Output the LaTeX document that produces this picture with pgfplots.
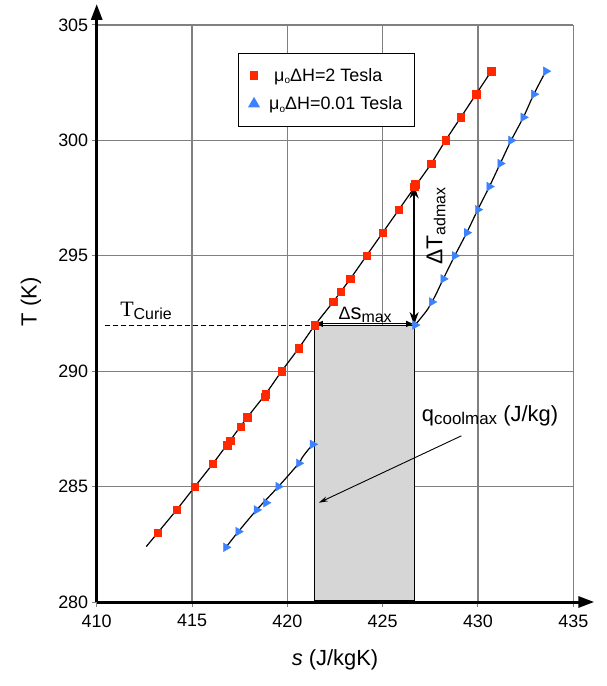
\documentclass[border=0pt]{standalone}
\usepackage{fontspec}
\setmainfont{Liberation Sans}
\newfontfamily\serifT{Liberation Serif}
\usepackage{pgfplots}
\usepackage{pgfplotstable}
\pgfplotsset{compat=1.18}
\usetikzlibrary{arrows.meta}

\definecolor{redpt}{RGB}{255,40,0}
\definecolor{bluept}{RGB}{60,130,255}
\definecolor{gridgray}{RGB}{128,128,128}
\definecolor{boxgray}{RGB}{214,214,214}

% mu0 dH = 2 Tesla
\pgfplotstableread{
s T
413.2 283
414.2 284
415.15 285
416.1 286
416.85 286.8
417.0 287
417.55 287.6
417.9 288
418.8 288.9
418.85 289
419.7 290
420.6 291
421.45 292
422.4 293
422.8 293.45
423.3 294
424.15 295
425.0 296
425.85 297
426.65 298
426.7 298.1
427.55 299
428.3 300
429.1 301
429.9 302
430.7 303
}\redpts

% mu0 dH = 0.01 Tesla
\pgfplotstableread{
s T
416.78 282.37
417.43 283.05
418.39 283.99
418.88 284.3
419.53 285.0
420.6 286.01
421.33 286.83
426.7 292
427.58 293
428.18 294
428.78 295
429.41 296
429.99 297
430.6 298
431.17 299
431.74 300
432.38 301
432.93 302
433.56 303
}\bluepts

% fitted curves
\pgfplotstableread{
s T
412.6 282.4
413.2 283
414.2 284
415.15 285
416.1 286
417.0 287
417.9 288
418.85 289
419.7 290
420.6 291
421.45 292
422.4 293
423.3 294
424.15 295
425.0 296
425.85 297
426.7 298
427.55 299
428.3 300
429.1 301
429.9 302
430.7 303
}\redline

\pgfplotstableread{
s T
416.78 282.37
417.43 283.05
418.39 283.99
419.53 285.0
420.6 286.01
421.33 286.83
426.7 292
427.58 293
428.18 294
428.78 295
429.41 296
429.99 297
430.6 298
431.17 299
431.74 300
432.38 301
432.93 302
433.56 303
}\blueline

\begin{document}
\begin{tikzpicture}
\begin{axis}[
    scale only axis,
    width=476.6bp, height=577bp,
    xmin=410, xmax=435, ymin=280, ymax=305,
    xtick={410,415,...,435}, ytick={280,285,...,305},
    axis lines=left,
    axis line style={line width=3bp, -{Triangle[length=16bp,width=11bp]}, shorten >=-21bp},
    grid=major,
    grid style={gridgray, line width=1.2bp},
    tick style={gridgray, line width=1bp},
    tick align=outside, major tick length=5bp,
    ticklabel style={font=\fontsize{18}{20}\selectfont},
    /pgf/number format/assume math mode=true,
    xticklabel style={yshift=-4bp},
    xlabel={\textit{s} (J/kgK)}, ylabel={T (K)},
    label style={font=\fontsize{22}{26}\selectfont},
    xlabel style={at={(axis description cs:0.5,0)}, anchor=center, yshift=-58bp},
    ylabel style={at={(axis description cs:-0.138,0.52)}, anchor=center},
    clip=false,
    legend cell align=left,
    legend style={at={(axis cs:417.43,303.8)}, anchor=north west, draw=black,
        line width=1bp, fill=white, font=\fontsize{18}{21}\selectfont,
        inner xsep=10bp, inner ysep=13bp, row sep=10bp,
        /tikz/every odd column/.append style={column sep=8bp}},
]
\addplot[bluept, only marks, mark=triangle*, mark size=5bp,
    mark options={rotate=-90, fill=bluept, draw=none}, forget plot] table {\bluepts};
\addplot[redpt, only marks, mark=square*, mark size=3.7bp,
    mark options={fill=redpt, draw=none}, forget plot] table {\redpts};
\addplot[black, line width=1.2bp, smooth, forget plot] table {\redline};
\addplot[black, line width=1.2bp, smooth, forget plot] table {\blueline};

% q_coolmax area
\addplot[fill=boxgray, draw=black, line width=1bp, forget plot]
    coordinates {(421.45,280.07) (421.45,292) (426.65,292) (426.65,280.07)} -- cycle;

% Curie line and arrows
\addplot[black, line width=1.2bp, dash pattern=on 5bp off 3bp, forget plot]
    coordinates {(410.44,291.97) (421.45,291.97)};
\addplot[black, line width=1bp, {Triangle[length=7bp,width=6bp]}-{Triangle[length=7bp,width=6bp]}, forget plot]
    coordinates {(421.5,292.05) (426.6,292.05)};
\addplot[black, line width=2bp, {Stealth[length=13bp,width=9bp]}-{Stealth[length=13bp,width=9bp]}, forget plot]
    coordinates {(426.65,292.0) (426.65,298.05)};
\addplot[black, line width=0.9bp, -{Stealth[length=9bp,width=5bp]}, forget plot]
    coordinates {(429.13,287.2) (421.65,284.3)};

\addlegendimage{redpt, only marks, mark=square*, mark size=3.7bp, mark options={fill=redpt, draw=none}}
\addlegendentry{\ μ\raisebox{-0.25ex}{\fontsize{10}{11}\selectfont o}ΔH=2 Tesla}
\addlegendimage{bluept, only marks, mark=triangle*, mark size=6bp, mark options={fill=bluept, draw=none}}
\addlegendentry{μ\raisebox{-0.25ex}{\fontsize{10}{11}\selectfont o}ΔH=0.01 Tesla}

\node[anchor=base west, inner sep=0] at (axis cs:411.23,292.36)
    {{\serifT\fontsize{22}{24}\selectfont T}\raisebox{-3bp}{\fontsize{16}{18}\selectfont Curie}};
\node[anchor=base, inner sep=0] at (axis cs:424.08,292.22)
    {{\fontsize{18}{20}\selectfont Δ}{\fontsize{22}{24}\selectfont s}\raisebox{-3bp}{\fontsize{16}{17}\selectfont max}};
\node[rotate=90, anchor=center, inner sep=0] at (axis cs:427.8,296.3)
    {{\fontsize{23}{26}\selectfont ΔT}\raisebox{-3bp}{\fontsize{16}{18}\selectfont admax}};
\node[anchor=base west, inner sep=0] at (axis cs:427.05,287.81)
    {{\fontsize{22}{24}\selectfont q}\raisebox{-3bp}{\fontsize{17}{18}\selectfont coolmax}{\fontsize{22}{24}\selectfont\ (J/kg)}};
\end{axis}
\path ([xshift=-96.7bp,yshift=-84bp]current axis.south west)
    rectangle ([xshift=33.7bp,yshift=25bp]current axis.north east);
\end{tikzpicture}
\end{document}
